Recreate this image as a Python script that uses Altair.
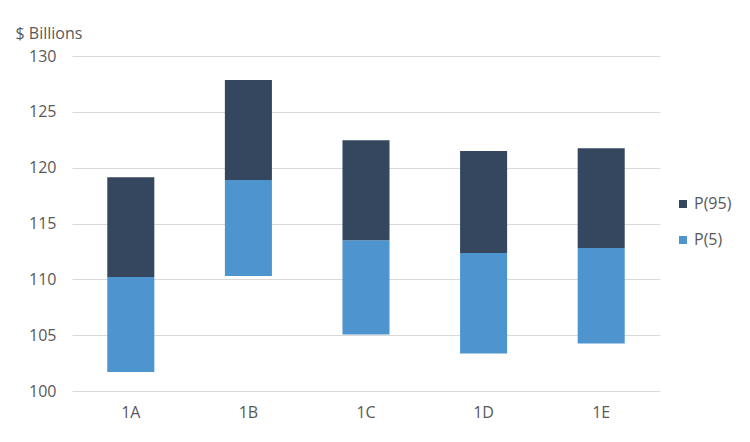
import altair as alt
import pandas as pd

categories = ["1A", "1B", "1C", "1D", "1E"]
p5_low = [101.7, 110.3, 105.05, 103.35, 104.25]
mid = [110.2, 118.9, 113.5, 112.35, 112.8]
p95_high = [119.15, 127.85, 122.45, 121.5, 121.75]
series = ["P(95)", "P(5)"]

rows = []
for c, lo, m, hi in zip(categories, p5_low, mid, p95_high):
    rows.append({"cat": c, "series": "P(5)", "start": lo, "end": m})
    rows.append({"cat": c, "series": "P(95)", "start": m, "end": hi})
df = pd.DataFrame(rows)

FONT = "Open Sans"
GRAY = "#595959"

chart = alt.Chart(df).mark_bar().encode(
    x=alt.X("cat:N", sort=categories,
            scale=alt.Scale(paddingInner=0.6, paddingOuter=0.3),
            axis=alt.Axis(title=None, labelAngle=0, ticks=False, domain=False, grid=False,
                          labelFont=FONT, labelFontSize=16, labelColor=GRAY,
                          labelPadding=13)),
    y=alt.Y("start:Q", scale=alt.Scale(domain=[100, 130], nice=False, zero=False),
            axis=alt.Axis(title="$ Billions", titleAngle=0, titleAlign="left",
                          titleBaseline="alphabetic", titleX=-57, titleY=-18,
                          titleFont=FONT, titleFontSize=16, titleFontWeight="normal",
                          titleColor=GRAY, values=[100, 105, 110, 115, 120, 125, 130],
                          ticks=False, domain=False, labelFont=FONT, labelFontSize=16,
                          labelColor=GRAY, labelPadding=16, gridColor="#d9d9d9",
                          gridWidth=1)),
    y2="end:Q",
    color=alt.Color("series:N",
                    scale=alt.Scale(domain=series, range=["#35475f", "#4e94cf"]),
                    legend=alt.Legend(title=None, orient="none", legendX=603, legendY=140,
                                      symbolType="square", symbolSize=64,
                                      symbolStrokeWidth=0, labelFont=FONT,
                                      labelFontSize=16, labelColor=GRAY,
                                      rowPadding=20, labelOffset=3)),
    order=alt.Order("series:N"),
).properties(
    width=588, height=335,
    autosize=alt.AutoSizeParams(type="none"),
    padding={"left": 64, "top": 48, "right": 80, "bottom": 40},
).configure(background="white", view=alt.ViewConfig(stroke=None))

chart.save("out.html", embed_options={"renderer": "svg", "actions": False})
